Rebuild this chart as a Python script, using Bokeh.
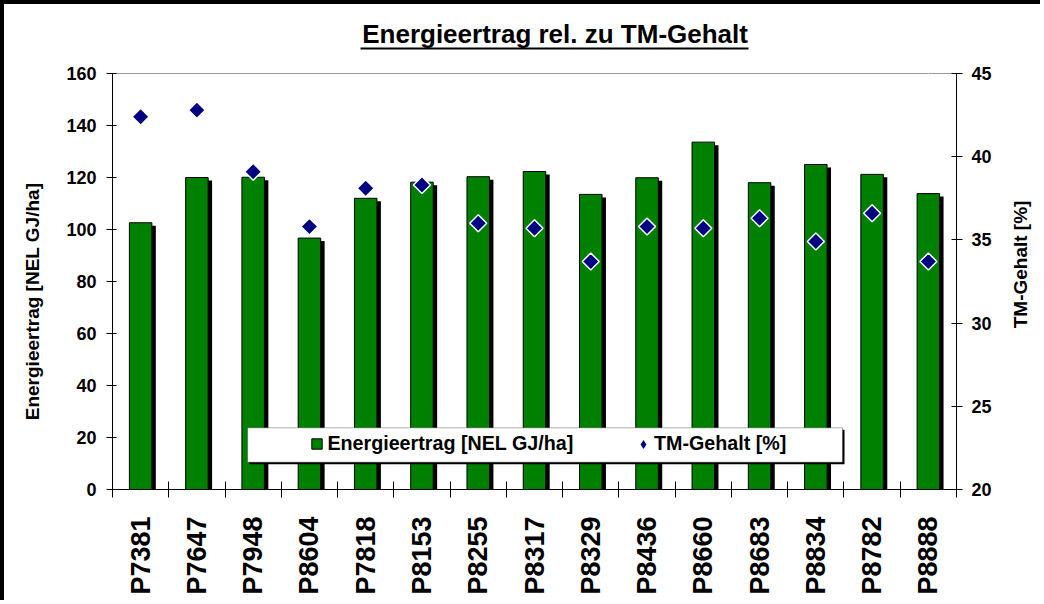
import numpy as np
from bokeh.plotting import figure
from bokeh.models import (Range1d, LinearAxis, FixedTicker, BoxAnnotation,
                          Legend, LegendItem, ColumnDataSource)
from bokeh.transform import dodge
from bokeh.embed import file_html
from bokeh.resources import INLINE

# ---------------- data ----------------
varieties = ["P7381", "P7647", "P7948", "P8604", "P7818", "P8153", "P8255", "P8317",
             "P8329", "P8436", "P8660", "P8683", "P8834", "P8782", "P8888"]
energy = [102.6, 120.0, 120.1, 96.7, 112.0, 118.2, 120.3, 122.3,
          113.5, 119.9, 133.6, 118.0, 125.0, 121.2, 113.8]
tm_content = [42.4, 42.8, 39.1, 35.8, 38.1, 38.3, 36.0, 35.7,
              33.7, 35.8, 35.7, 36.3, 34.9, 36.6, 33.7]
energy_ticks = [0, 20, 40, 60, 80, 100, 120, 140, 160]
tm_ticks = [20, 25, 30, 35, 40, 45]
title_text = "Energieertrag rel. zu TM-Gehalt"
left_label = "Energieertrag [NEL GJ/ha]"
right_label = "TM-Gehalt [%]"
legend_energy = "Energieertrag [NEL GJ/ha]"
legend_tm = "TM-Gehalt [%]"

FONT = "Liberation Sans"
pos = list(range(len(varieties)))
src = ColumnDataSource(dict(x=pos, name=varieties, energy=energy, tm=tm_content))

p = figure(width=1040, height=600, output_backend="svg", toolbar_location=None,
           x_range=Range1d(-0.5, len(varieties) - 0.5), y_range=Range1d(0, 160),
           min_border_left=108, min_border_right=81, min_border_top=69, min_border_bottom=115,
           background_fill_color="white", border_fill_color="white")
p.styles = {"border-left": "4px solid black", "border-top": "4px solid black"}
p.extra_y_ranges = {"tm": Range1d(20, 45)}
p.grid.visible = False
p.outline_line_color = "#9a9a9a"
p.outline_line_width = 1

# title
p.title.text = title_text
p.title.align = "left"
p.title.offset = 249.7
p.title.standoff = 0
p.title.text_font = FONT
p.title.text_font_style = "bold"
p.title.text_font_size = "26px"
p.title.text_color = "black"

# bars with shadow
p.vbar(x=dodge("x", 0.07), top=dodge("energy", -1.15), bottom=0, width=0.4, source=src,
       fill_color="black", line_color=None)
bars = p.vbar(x="x", top="energy", bottom=0, width=0.4, source=src,
              fill_color="#008000", line_color="black", line_width=1)
# diamond swatch series (drawn underneath the main markers, used for the legend key)
dot_key = p.scatter(x="x", y="tm", source=src, y_range_name="tm", marker="diamond",
                    size=10, fill_color="#000080", line_color=None)
dots = p.scatter(x="x", y="tm", source=src, y_range_name="tm", marker="square",
                 angle=np.pi / 4, size=12, fill_color="#000080", line_color="white",
                 line_width=1.5)

# x axis
xa = p.xaxis[0]
xa.ticker = FixedTicker(ticks=pos, minor_ticks=[i - 0.5 for i in range(len(varieties) + 1)])
xa.major_label_overrides = {i: v for i, v in enumerate(varieties)}
xa.major_label_orientation = np.pi / 2
xa.major_tick_in = 0
xa.major_tick_out = 0
xa.minor_tick_in = 8
xa.minor_tick_out = 8
xa.minor_tick_line_color = "black"
xa.major_label_standoff = 19
xa.major_label_text_font_size = "27px"

# left axis
ya = p.yaxis[0]
ya.ticker = FixedTicker(ticks=energy_ticks)
ya.major_tick_in = 4
ya.major_tick_out = 6
ya.minor_tick_line_color = None
ya.major_label_standoff = 10
ya.major_label_text_font_size = "18px"

# right axis
ra = LinearAxis(y_range_name="tm", ticker=FixedTicker(ticks=tm_ticks))
ra.major_tick_in = 5
ra.major_tick_out = 6
ra.minor_tick_line_color = None
ra.major_label_standoff = 9
ra.major_label_text_font_size = "18px"
p.add_layout(ra, "right")

# axis titles as rotated labels of outer helper axes (placed along the axis)
la2 = LinearAxis(ticker=FixedTicker(ticks=[118]), major_label_overrides={118: left_label},
                 major_label_orientation=np.pi / 2, major_label_standoff=31,
                 axis_line_color=None, major_tick_in=0, major_tick_out=0,
                 major_tick_line_color=None, minor_tick_line_color=None)
p.add_layout(la2, "left")
ra2 = LinearAxis(ticker=FixedTicker(ticks=[62]), major_label_overrides={62: right_label},
                 major_label_orientation=np.pi / 2, major_label_standoff=26,
                 axis_line_color=None, major_tick_in=0, major_tick_out=0,
                 major_tick_line_color=None, minor_tick_line_color=None)
p.add_layout(ra2, "right")

for ax in (xa, ya, ra, la2, ra2):
    ax.axis_line_color = None if ax in (la2, ra2) else "black"
    ax.major_tick_line_color = None if ax in (la2, ra2) else "black"
    ax.major_label_text_font = FONT
    ax.major_label_text_font_style = "bold"
    ax.major_label_text_color = "black"
la2.major_label_text_font_size = "19px"
ra2.major_label_text_font_size = "19px"

# spacer + title underline (axis lines above the frame)
spacer = LinearAxis(ticker=FixedTicker(ticks=[14]), axis_line_color=None,
                    major_tick_in=0, major_tick_out=25, major_tick_line_color="white",
                    minor_tick_line_color=None, major_label_standoff=0,
                    major_label_overrides={14: ""}, major_label_text_font_size="1px")
p.add_layout(spacer, "above")
uline = LinearAxis(ticker=FixedTicker(ticks=[]), bounds=(3.901, 10.799),
                   axis_line_color="black", axis_line_width=2,
                   major_tick_in=0, major_tick_out=0, major_tick_line_color=None,
                   minor_tick_line_color=None)
p.add_layout(uline, "above")

# legend box with shadow
p.add_layout(BoxAnnotation(left=137, right=732, bottom=25.3, top=59.7,
                           left_units="screen", right_units="screen",
                           top_units="screen", bottom_units="screen",
                           fill_color="black", fill_alpha=1, line_color=None))
p.add_layout(BoxAnnotation(left=135, right=730, bottom=27.3, top=61.7,
                           left_units="screen", right_units="screen",
                           top_units="screen", bottom_units="screen",
                           fill_color="white", fill_alpha=1, line_color="black",
                           line_width=1))

leg_common = dict(orientation="horizontal", padding=0, margin=0, border_line_color=None,
                  background_fill_alpha=0, label_text_font=FONT,
                  label_text_font_style="bold", label_text_font_size="19.7px",
                  label_text_color="black")
leg1 = Legend(items=[LegendItem(label=legend_energy, renderers=[bars])],
              location=(198.4, 34), glyph_width=13, glyph_height=13, label_height=13,
              label_standoff=4, **leg_common)
leg2 = Legend(items=[LegendItem(label=legend_tm, renderers=[dot_key])],
              location=(520, 34), glyph_width=22, glyph_height=22, label_height=22,
              label_standoff=0, **leg_common)
p.add_layout(leg1, "center")
p.add_layout(leg2, "center")

open("out.html", "w").write(file_html(p, INLINE))
